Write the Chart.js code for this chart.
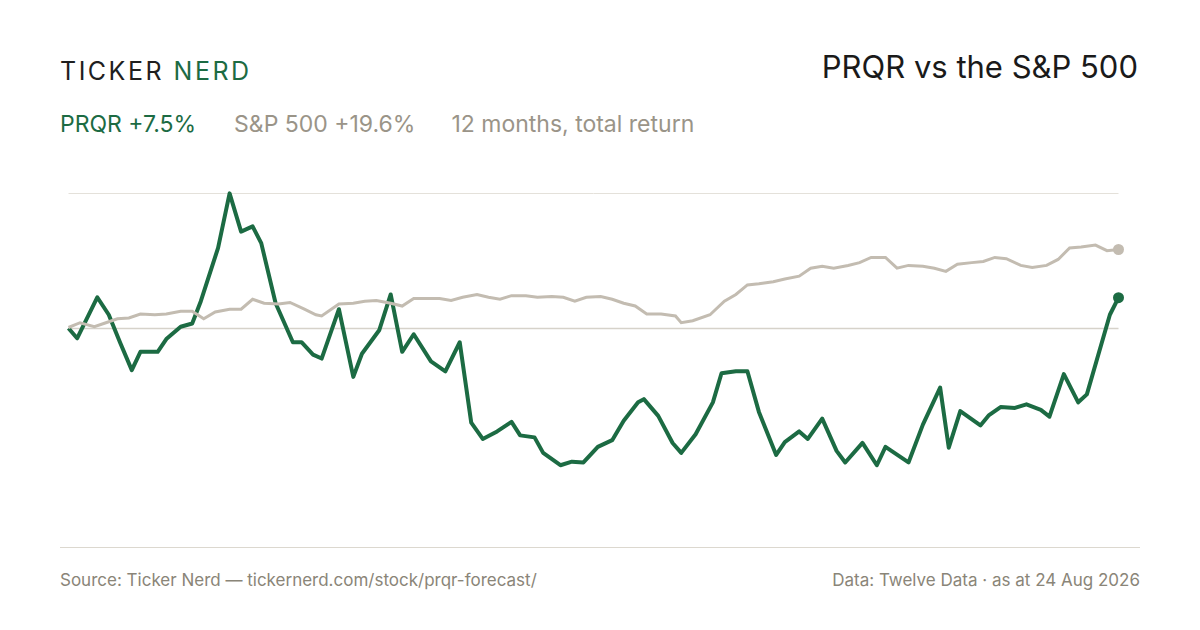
<!DOCTYPE html>
<html>
<head>
<meta charset="utf-8">
<script src="https://cdn.jsdelivr.net/npm/chart.js@4"></script>
<style>
  body { margin: 0; background: #fff; font-family: Inter, "Noto Sans", sans-serif; }
  #page { position: relative; width: 1200px; height: 630px; overflow: hidden; background: #fff; }
  .logo { position: absolute; left: 60px; top: 56px; font-size: 25px; letter-spacing: 2.5px; color: #1f1f1f; }
  .logo span { color: #1c6b43; }
  .title { position: absolute; right: 62px; top: 48px; font-size: 31px; color: #1a1a1a; }
  .sub { position: absolute; left: 60px; top: 110px; font-size: 23px; color: #9a9488; }
  .sub .g { color: #1c6b43; margin-right: 38px; }
  .sub .s { margin-right: 36px; }
  .rule { position: absolute; left: 60px; right: 60px; top: 547px; border-top: 1px solid #dcd8cf; }
  .foot { position: absolute; top: 570px; font-size: 17px; color: #8a8578; }
  #wrap { position: absolute; left: 63px; top: 160px; width: 1061px; height: 380px; }
</style>
</head>
<body>
<div id="page">
  <div class="logo">TICKER <span>NERD</span></div>
  <div class="title">PRQR vs the S&amp;P 500</div>
  <div class="sub"><span class="g">PRQR +7.5%</span><span class="s">S&amp;P 500 +19.6%</span>12 months, total return</div>
  <div id="wrap"><canvas id="chart"></canvas></div>
  <div class="rule"></div>
  <div class="foot" style="left:60px">Source: Ticker Nerd — tickernerd.com/stock/prqr-forecast/</div>
  <div class="foot" style="right:60px">Data: Twelve Data · as at 24 Aug 2026</div>
</div>
<script>
// days since start, % total return
var prqrDays = [0,3,10,14,18,22,25,31,34,39,43,46,52,56,60,64,67,72,78,81,85,88,94,99,102,108,112,116,120,126,131,136,140,144,149,154,157,162,165,171,175,179,184,189,193,198,200,205,210,213,218,224,227,232,236,240,246,249,254,257,262,267,270,276,281,284,292,297,303,306,310,317,320,324,329,333,338,341,346,351,354,362,365];
var prqrValues = [-0.2,-2.7,7.6,3.2,-3.9,-10.7,-6.1,-6.1,-2.9,0.2,1.0,6.6,20.0,33.7,24.1,25.4,21.2,6.1,-3.7,-3.7,-6.8,-7.8,4.6,-12.4,-6.6,-0.7,8.3,-6.1,-1.7,-8.5,-11.0,-3.7,-23.9,-28.0,-26.1,-23.7,-27.1,-27.6,-31.5,-34.6,-33.7,-33.9,-30.0,-28.3,-23.4,-18.8,-18.0,-22.2,-29.0,-31.5,-26.8,-18.8,-11.5,-11.0,-11.0,-21.2,-32.0,-28.8,-26.1,-28.0,-22.9,-31.0,-33.9,-29.0,-34.6,-30.0,-33.9,-24.4,-15.1,-30.2,-21.0,-24.6,-22.0,-20.0,-20.2,-19.3,-20.7,-22.4,-11.7,-18.8,-16.8,3.2,7.5];
var spxDays = [0,4,9,13,17,21,25,30,34,39,43,47,51,56,60,64,68,73,77,82,86,88,94,99,103,107,112,116,120,125,129,133,137,142,146,150,154,159,163,168,172,176,180,185,189,193,197,201,206,211,213,217,223,228,232,236,240,245,249,254,258,262,266,271,275,279,284,288,292,297,301,305,309,314,318,322,326,331,335,340,344,348,352,357,361,365];
var spxValues = [0,1.2,0.2,1.2,2.2,2.4,3.4,3.2,3.4,4.1,4.1,2.2,3.9,4.6,4.6,7.1,6.1,5.9,6.3,4.6,3.2,2.9,5.9,6.1,6.6,6.8,6.1,5.4,7.3,7.3,7.3,6.8,7.6,8.3,7.6,7.1,8.0,8.0,7.6,7.8,7.6,6.6,7.6,7.8,7.1,6.1,5.4,3.4,3.4,2.9,1.2,1.7,3.2,6.6,8.3,10.7,11.0,11.5,12.2,12.9,14.9,15.4,14.9,15.6,16.3,17.6,17.6,14.9,15.6,15.4,14.9,14.1,15.9,16.3,16.6,17.6,17.3,15.6,15.1,15.6,17.1,20.0,20.2,20.7,19.3,19.6];
var gridValues = [0, 33.7];

function pts(days, vals) {
    return days.map(function (d, i) { return { x: d, y: vals[i] }; });
}
function lastDot(n, r) {
    return function (ctx) { return ctx.dataIndex === n - 1 ? r : 0; };
}

var gridPlugin = {
    id: 'grid',
    beforeDatasetsDraw: function (chart) {
        var c = chart.ctx, y = chart.scales.y, a = chart.chartArea;
        c.save();
        gridValues.forEach(function (v, i) {
            var py = Math.round(y.getPixelForValue(v)) + 0.5;
            c.strokeStyle = i === 0 ? '#d6d2ca' : '#e4e1da';
            c.lineWidth = i === 0 ? 1.5 : 1;
            c.beginPath(); c.moveTo(a.left, py); c.lineTo(a.right, py); c.stroke();
        });
        c.restore();
    }
};

new Chart(document.getElementById('chart'), {
    type: 'line',
    data: {
        datasets: [
            { data: pts(spxDays, spxValues), borderColor: '#c3bcb1', backgroundColor: '#c3bcb1', borderWidth: 3,
              pointRadius: lastDot(spxDays.length, 5.5), pointBorderWidth: 0, tension: 0 },
            { data: pts(prqrDays, prqrValues), borderColor: '#1c6b43', backgroundColor: '#1c6b43', borderWidth: 4,
              pointRadius: lastDot(prqrDays.length, 5.5), pointBorderWidth: 0, tension: 0, borderJoinStyle: 'round' }
        ]
    },
    options: {
        responsive: true,
        maintainAspectRatio: false,
        animation: false,
        layout: { padding: 0 },
        plugins: { legend: { display: false }, tooltip: { enabled: false } },
        scales: {
            x: { type: 'linear', min: 0, max: 365, display: false },
            y: { min: -52, max: 40.7, display: false }
        },
        clip: false
    },
    plugins: [gridPlugin]
});
</script>
</body>
</html>
